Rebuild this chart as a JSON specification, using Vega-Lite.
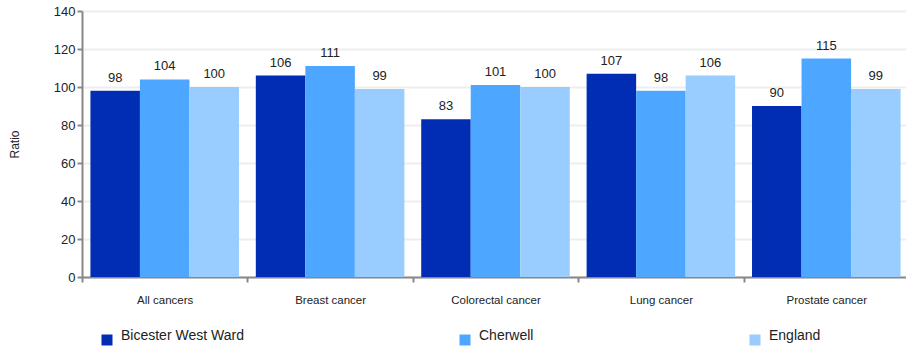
{
  "$schema": "https://vega.github.io/schema/vega-lite/v6.json",
  "width": 827,
  "height": 266,
  "autosize": {"type": "none"},
  "padding": {"left": 82, "top": 11, "right": 0, "bottom": 71},
  "background": "white",
  "config": {
    "font": "Liberation Sans",
    "view": {"stroke": null}
  },
  "data": {
    "values": [
      {"category": "All cancers", "area": "Bicester West Ward", "value": 98},
      {"category": "All cancers", "area": "Cherwell", "value": 104},
      {"category": "All cancers", "area": "England", "value": 100},
      {"category": "Breast cancer", "area": "Bicester West Ward", "value": 106},
      {"category": "Breast cancer", "area": "Cherwell", "value": 111},
      {"category": "Breast cancer", "area": "England", "value": 99},
      {"category": "Colorectal cancer", "area": "Bicester West Ward", "value": 83},
      {"category": "Colorectal cancer", "area": "Cherwell", "value": 101},
      {"category": "Colorectal cancer", "area": "England", "value": 100},
      {"category": "Lung cancer", "area": "Bicester West Ward", "value": 107},
      {"category": "Lung cancer", "area": "Cherwell", "value": 98},
      {"category": "Lung cancer", "area": "England", "value": 106},
      {"category": "Prostate cancer", "area": "Bicester West Ward", "value": 90},
      {"category": "Prostate cancer", "area": "Cherwell", "value": 115},
      {"category": "Prostate cancer", "area": "England", "value": 99}
    ]
  },
  "encoding": {
    "x": {
      "field": "category",
      "type": "nominal",
      "sort": null,
      "scale": {"paddingInner": 0, "paddingOuter": 0},
      "axis": {
        "title": null,
        "labelAngle": 0,
        "labelFontSize": 11.5,
        "labelColor": "#222",
        "labelPadding": 12,
        "tickBand": "extent",
        "tickSize": 5,
        "tickColor": "#888",
        "tickWidth": 2,
        "domainColor": "#888",
        "domainWidth": 2
      }
    },
    "xOffset": {
      "field": "area",
      "type": "nominal",
      "scale": {"paddingInner": 0, "paddingOuter": 0.17}
    },
    "y": {
      "field": "value",
      "type": "quantitative",
      "scale": {"domain": [0, 140]},
      "axis": {
        "title": "Ratio",
        "titleFontSize": 12,
        "titleFontWeight": "normal",
        "titleColor": "#222",
        "titlePadding": 32,
        "values": [0, 20, 40, 60, 80, 100, 120, 140],
        "labelOverlap": false,
        "labelFontSize": 13,
        "labelColor": "#222",
        "labelPadding": 2,
        "tickSize": 5,
        "tickColor": "#888",
        "tickWidth": 2,
        "domainColor": "#888",
        "domainWidth": 2,
        "gridColor": "#eeeeee",
        "gridWidth": 2
      }
    }
  },
  "layer": [
    {
      "mark": {"type": "bar"},
      "encoding": {
        "color": {
          "field": "area",
          "type": "nominal",
          "scale": {
            "domain": ["Bicester West Ward", "Cherwell", "England"],
            "range": ["#002db3", "#4da6ff", "#99ccff"]
          },
          "legend": {
            "title": null,
            "orient": "none",
            "legendX": 18,
            "legendY": 322,
            "direction": "horizontal",
            "columns": 3,
            "gridAlign": "none",
            "columnPadding": 214,
            "symbolType": "square",
            "symbolSize": 121,
            "symbolStrokeWidth": 0,
            "symbolOpacity": 1,
            "labelFontSize": 14,
            "labelBaseline": "alphabetic",
            "labelColor": "#222",
            "labelOffset": 7
          }
        }
      }
    },
    {
      "mark": {"type": "text", "baseline": "alphabetic", "dy": -9, "fontSize": 13, "color": "#222"},
      "encoding": {
        "text": {"field": "value", "type": "quantitative"}
      }
    }
  ]
}
